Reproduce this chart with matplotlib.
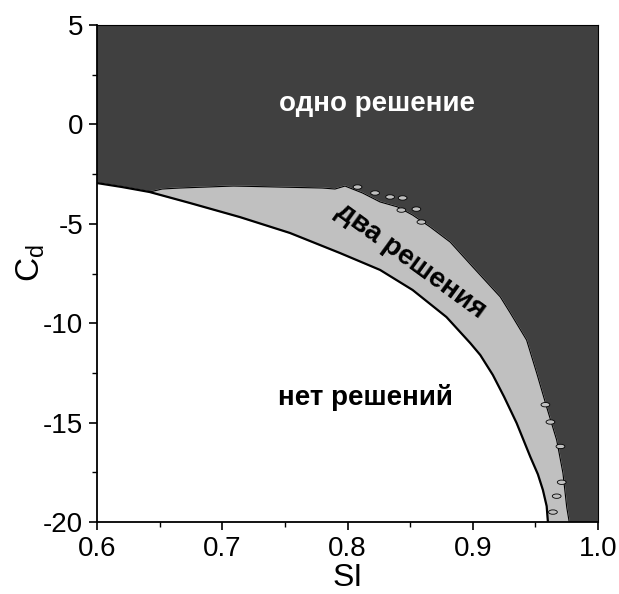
import numpy as np
import matplotlib
matplotlib.use("Agg")
import matplotlib.pyplot as plt
from matplotlib.patches import Ellipse
from matplotlib.ticker import MultipleLocator, FormatStrFormatter

plt.rcParams['font.family'] = ['Liberation Sans', 'DejaVu Sans']
plt.rcParams['mathtext.default'] = 'regular'
plt.rcParams['axes.unicode_minus'] = False

# --- region boundaries in the (SI, C_d) plane ---
# lower edge: below it there are no solutions
si_low = [0.600, 0.620, 0.642, 0.674, 0.714, 0.754, 0.794, 0.826, 0.852, 0.879,
          0.898, 0.906, 0.916, 0.925, 0.935, 0.946, 0.952, 0.956, 0.959, 0.960]
cd_low = [-2.95, -3.15, -3.40, -3.95, -4.66, -5.46, -6.47, -7.32, -8.33, -9.69,
          -11.00, -11.60, -12.60, -13.70, -15.02, -16.73, -17.60, -18.39, -19.20, -20.0]

# upper edge of the two-solution band
si_up = [0.642, 0.652, 0.666, 0.709, 0.780, 0.790, 0.798, 0.812, 0.826, 0.840,
         0.852, 0.866, 0.882, 0.900, 0.922, 0.930, 0.943, 0.951, 0.959, 0.967,
         0.972, 0.975, 0.977]
cd_up = [-3.40, -3.25, -3.20, -3.10, -3.20, -3.25, -3.10, -3.45, -3.90, -4.15,
         -4.56, -5.16, -5.92, -7.17, -8.68, -9.49, -10.85, -12.50, -14.22, -15.88,
         -17.54, -19.25, -20.0]

# scattered two-solution spots inside the one-solution area
spot_si = [0.808, 0.822, 0.834, 0.844, 0.843, 0.855, 0.859,
           0.958, 0.962, 0.970, 0.971, 0.967, 0.964]
spot_cd = [-3.15, -3.45, -3.65, -3.70, -4.31, -4.26, -4.91,
           -14.1, -14.97, -16.2, -18.0, -18.7, -19.5]

DARK = '#404040'
LIGHT = '#c0c0c0'

fig = plt.figure(figsize=(6.19, 5.94), dpi=100)
ax = fig.add_axes([0.1567, 0.1212, 0.8094, 0.8367])
ax.set_facecolor(DARK)

xmin, xmax, ymin, ymax = 0.6, 1.0, -20, 5

# no-solution area (white)
ax.fill(list(si_low) + [xmin], list(cd_low) + [ymin], color='white', zorder=1)

# two-solution band (light gray)
band_x = list(si_low[2:]) + list(si_up[::-1])
band_y = list(cd_low[2:]) + list(cd_up[::-1])
ax.fill(band_x, band_y, color=LIGHT, zorder=2)

# boundary lines
ax.plot(si_low, cd_low, color='black', lw=1.6, zorder=3)
ax.plot(si_up, cd_up, color='black', lw=0.8, zorder=3)

for sx, sy in zip(spot_si, spot_cd):
    ax.add_patch(Ellipse((sx, sy), 0.007, 0.22, facecolor=LIGHT,
                         edgecolor='black', lw=0.6, zorder=3))

ax.set_xlim(xmin, xmax)
ax.set_ylim(ymin, ymax)

ax.xaxis.set_major_locator(MultipleLocator(0.1))
ax.xaxis.set_minor_locator(MultipleLocator(0.05))
ax.yaxis.set_major_locator(MultipleLocator(5))
ax.yaxis.set_minor_locator(MultipleLocator(2.5))
ax.xaxis.set_major_formatter(FormatStrFormatter('%.1f'))
ax.tick_params(which='major', direction='out', length=6, width=1.2,
               labelsize=20, pad=4)
ax.tick_params(which='minor', direction='out', length=3.5, width=1.0)
ax.tick_params(top=False, right=False)

for s in ['left', 'bottom']:
    ax.spines[s].set_linewidth(1.3)
for s in ['top', 'right']:
    ax.spines[s].set_linewidth(0.8)

ax.set_xlabel('SI', fontsize=23, labelpad=1)
ax.set_ylabel('$C_d$', fontsize=24)
ax.yaxis.set_label_coords(-0.10, 0.52)

# region labels
ax.text(0.8236, 1.05, 'одно решение', color='white', fontsize=20,
        fontweight='bold', ha='center', va='center', zorder=5)
ax.text(0.8506, -6.85, 'два решения', color='black', fontsize=20,
        fontweight='bold', ha='center', va='center', rotation=-36,
        rotation_mode='anchor', zorder=5)
ax.text(0.814, -13.76, 'нет решений', color='black', fontsize=20,
        fontweight='bold', ha='center', va='center', zorder=5)

fig.savefig('out.png', dpi=100)
